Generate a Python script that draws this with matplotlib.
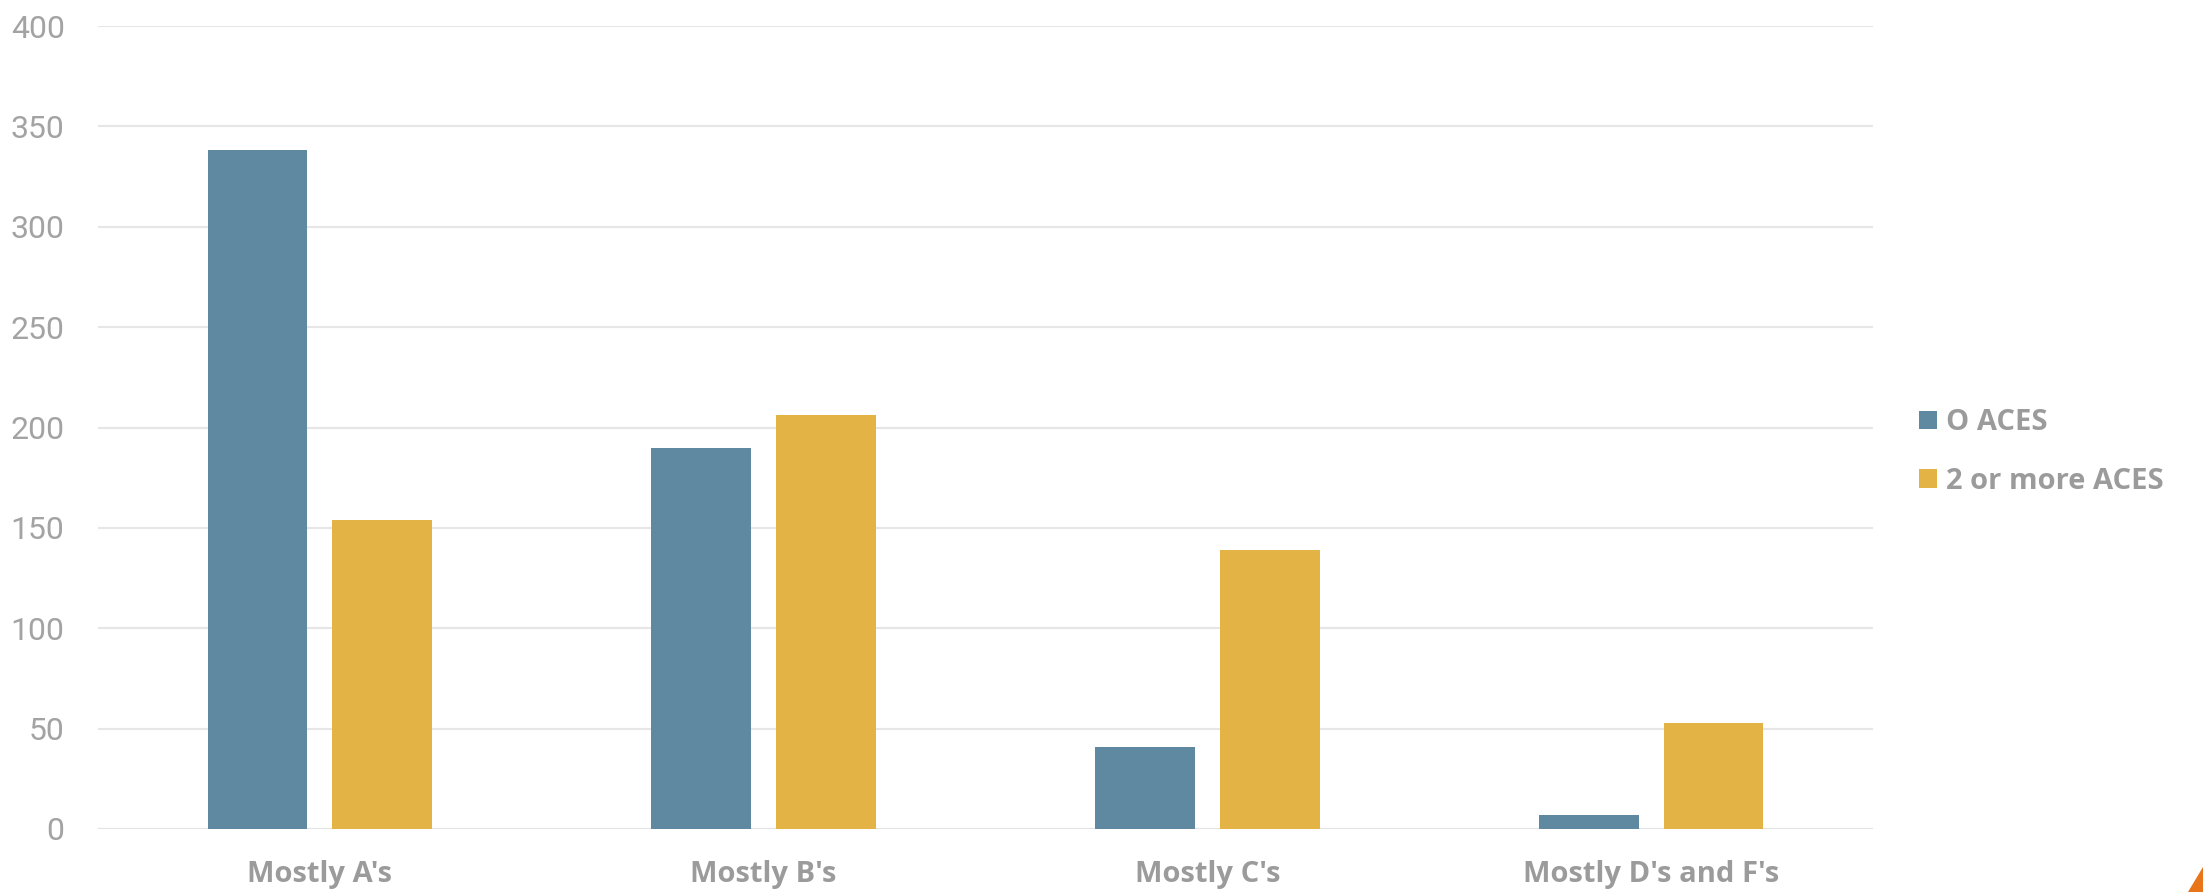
import matplotlib
matplotlib.use("Agg")
import matplotlib.pyplot as plt
import numpy as np
from matplotlib.patches import Polygon

categories = ["Mostly A's", "Mostly B's", "Mostly C's", "Mostly D's and F's"]
zero_aces = [338, 190, 41, 7]
two_plus_aces = [154, 206, 139, 53]
series_names = ["O ACES", "2 or more ACES"]
yticks = [0, 50, 100, 150, 200, 250, 300, 350, 400]

c_blue = "#5F88A1"
c_orange = "#E3B346"
c_text = "#9B9B9B"

fig = plt.figure(figsize=(22.03, 8.92), dpi=100)
ax = fig.add_axes([98/2203, 1-829/892, (1873-98)/2203, (829-26)/892])

x = np.arange(len(categories))
w = 0.225
gap = 0.056
ax.bar(x - (w+gap)/2, zero_aces, w, color=c_blue, label=series_names[0], zorder=3)
ax.bar(x + (w+gap)/2, two_plus_aces, w, color=c_orange, label=series_names[1], zorder=3)

ax.set_xlim(-0.5, len(categories)-0.5)
ax.set_ylim(0, 400)
ax.set_yticks(yticks)
ax.set_yticklabels([str(t) for t in yticks], fontsize=23, color="#A3A3A3",
                   fontfamily="Roboto", fontweight="normal")
ax.set_xticks(x)
ax.set_xticklabels(categories, fontsize=21, color=c_text, fontfamily="Open Sans", fontweight="bold")
ax.tick_params(axis="y", length=0, pad=24)
ax.tick_params(axis="x", length=0, pad=22)
ax.yaxis.grid(True, color="#E6E6E6", linewidth=1.5, zorder=0)
for s in ax.spines.values():
    s.set_visible(False)
ax.axhline(0, color="#E3E3E3", linewidth=1.5, zorder=2)

leg = fig.legend(loc="center left", bbox_to_anchor=(1893/2203, 1-452/892),
                 frameon=False, handlelength=0.6, handleheight=0.6, handletextpad=0.3,
                 labelspacing=1.0, prop={"family": "Open Sans", "weight": "bold", "size": 21})
for t in leg.get_texts():
    t.set_color(c_text)

# small orange corner mark
fig.patches.append(Polygon([[2188/2203, 0], [1.0, 0], [1.0, 25/892]], closed=True,
                           transform=fig.transFigure, color="#E8751A", figure=fig))

fig.savefig("out.png", dpi=100)
